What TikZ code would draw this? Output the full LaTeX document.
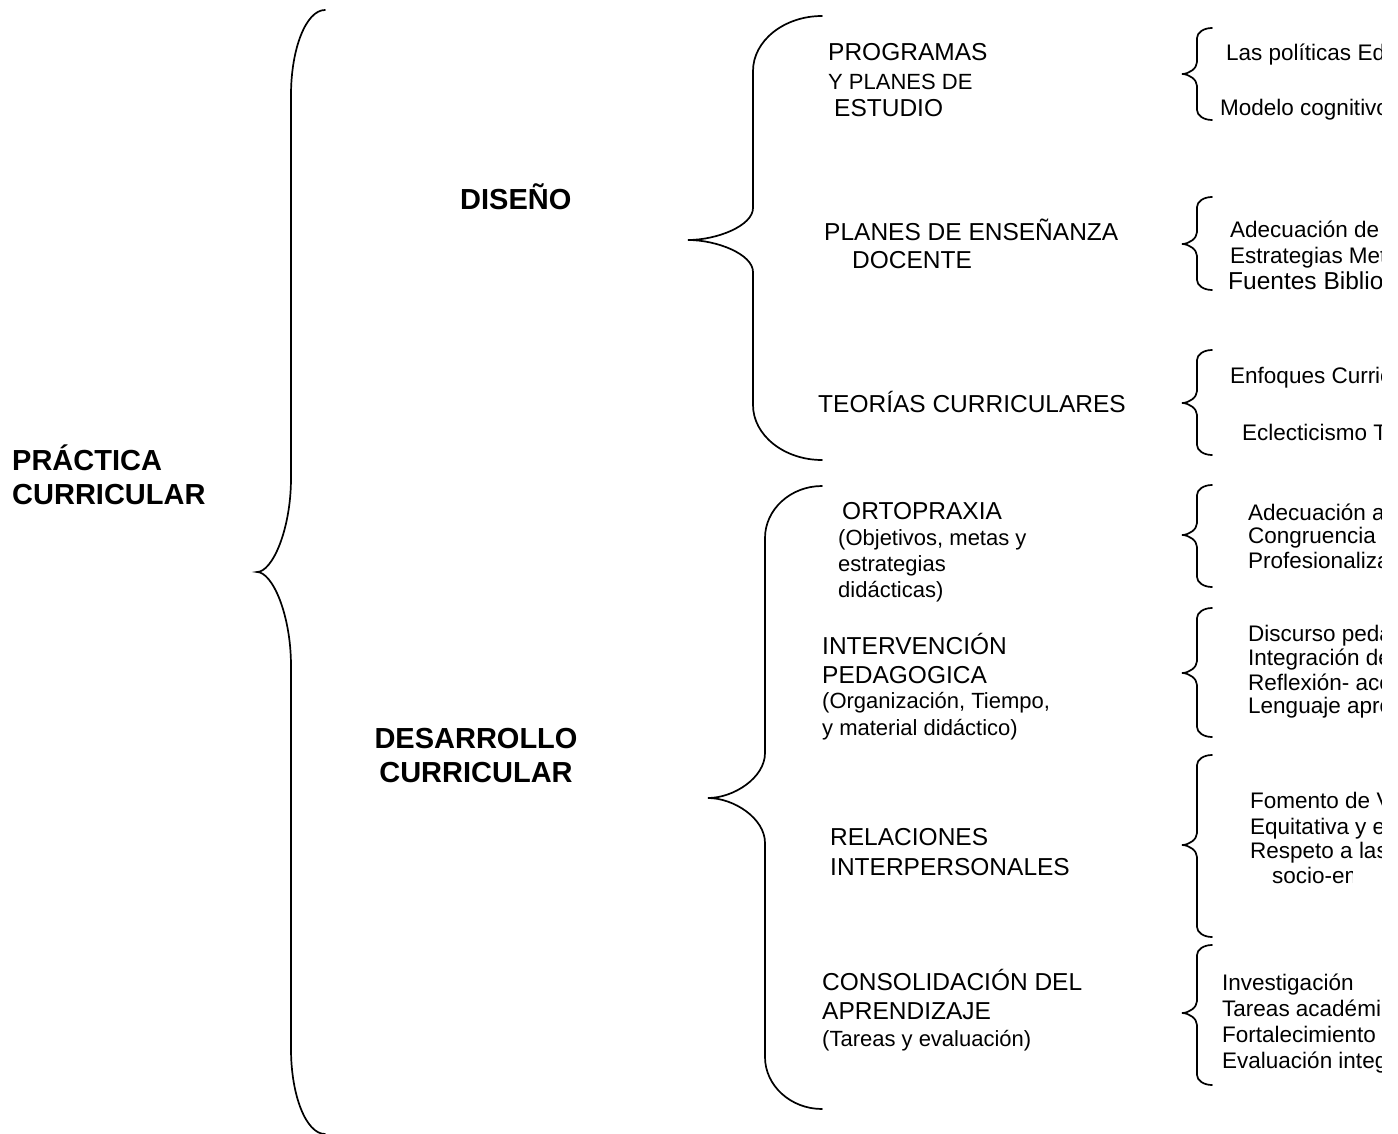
\documentclass[tikz,border=0pt]{standalone}
\usepackage{fontspec}
\setmainfont{Liberation Sans}
\newcommand{\mybrace}[8]{%
  \draw[bracestyle] (#1,#4) .. controls ({#2+0.45*(#1-#2)},#4) and (#2,{#4+0.45*#7}) .. (#2,{#4+#7})
    -- (#2,{#5-#8}) .. controls (#2,{#5-0.45*#8}) and ({#3+0.45*(#2-#3)},#5) .. (#3,#5)
    .. controls ({#3+0.45*(#2-#3)},#5) and (#2,{#5+0.45*#8}) .. (#2,{#5+#8})
    -- (#2,{#6-#7}) .. controls (#2,{#6-0.45*#7}) and ({#2+0.45*(#1-#2)},#6) .. (#1,#6);}
\tikzset{
  capt/.style={font=\fontsize{24.5}{29}\selectfont, anchor=base west, inner sep=0pt},
  subt/.style={font=\fontsize{22}{26}\selectfont, anchor=base west, inner sep=0pt},
  rt/.style={font=\fontsize{22.5}{26}\selectfont, anchor=base west, inner sep=0pt},
  bigt/.style={font=\bfseries\fontsize{29}{33}\selectfont, anchor=base west, inner sep=0pt},
  bracestyle/.style={line width=1.7pt, line cap=round}
}
\begin{document}
\begin{tikzpicture}[x=1pt,y=-1pt]
\useasboundingbox (0,0) rectangle (1398,1134);
\clip (0,0) rectangle (1398,1134);
\fill[white] (0,0) rectangle (1398,1134);
% level 0
\node[bigt] (prac1) at (12,470) {PRÁCTICA};
\node[bigt] (prac2) at (12,504) {CURRICULAR};
% big brace
\mybrace{325}{291}{257}{10}{572}{1134}{85}{94}
% level 1
\node[bigt] (dis) at (460,210) {DISEÑO};
\node[bigt, anchor=base] (des1) at (476,748) {DESARROLLO};
\node[bigt, anchor=base] (des2) at (476,782) {CURRICULAR};
\mybrace{822}{753}{688}{16}{240}{460}{55}{32}
\mybrace{822}{765}{708}{486}{798}{1109}{52}{45}
% level 2
\node[capt] (pr1) at (828,61) {PROGRAMAS};
\node[subt] (pr2) at (828,90) {Y PLANES DE};
\node[capt] (pr3) at (834,117) {ESTUDIO};
\node[capt] (pe1) at (824,241) {PLANES DE ENSEÑANZA};
\node[capt] (pe2) at (852,269) {DOCENTE};
\node[capt] (te) at (818,412) {TEORÍAS CURRICULARES};
\node[capt] (or1) at (842,519) {ORTOPRAXIA};
\node[subt] (or2) at (838,545) {(Objetivos, metas y};
\node[subt] (or3) at (838,571) {estrategias};
\node[subt] (or4) at (838,597) {didácticas)};
\node[capt] (in1) at (822,654) {INTERVENCIÓN};
\node[capt] (in2) at (822,683) {PEDAGOGICA};
\node[subt] (in3) at (822,708) {(Organización, Tiempo,};
\node[subt] (in4) at (822,735) {y material didáctico)};
\node[capt] (re1) at (830,845) {RELACIONES};
\node[capt] (re2) at (830,875) {INTERPERSONALES};
\node[capt] (co1) at (822,990) {CONSOLIDACIÓN DEL};
\node[capt] (co2) at (822,1019) {APRENDIZAJE};
\node[subt] (co3) at (822,1046) {(Tareas y evaluación)};
% level 3 braces
\mybrace{1212}{1197}{1182}{28}{74}{120}{10}{12}
\mybrace{1212}{1197}{1182}{197}{244}{290}{10}{12}
\mybrace{1212}{1197}{1182}{350}{403}{455}{10}{12}
\mybrace{1212}{1197}{1182}{485}{535}{587}{10}{12}
\mybrace{1212}{1197}{1182}{608}{673}{737}{10}{12}
\mybrace{1212}{1197}{1182}{755}{845}{937}{10}{12}
\mybrace{1212}{1197}{1182}{945}{1013}{1085}{10}{12}
% level 3 texts (cut at the right edge of the text area)
\begin{scope}
\clip (1200,0) rectangle (1381,1134);
\node[rt] (a1) at (1226,61) {Las políticas Edu};
\node[rt] (a2) at (1220,116) {Modelo cognitivo};
\node[rt] (b1) at (1230,238) {Adecuación de};
\node[rt] (b2) at (1230,264) {Estrategias Meto};
\node[capt] (b3) at (1228,290) {Fuentes Bibliog};
\node[rt] (c1) at (1230,383) {Enfoques Curric};
\node[rt] (c2) at (1242,440) {Eclecticismo Te};
\node[rt] (d1) at (1248,520) {Adecuación al};
\node[rt] (d2) at (1248,543) {Congruencia};
\node[rt] (d3) at (1248,568) {Profesionalizac};
\node[rt] (e1) at (1248,641) {Discurso peda};
\node[rt] (e2) at (1248,665) {Integración de};
\node[rt] (e3) at (1248,690) {Reflexión- acci};
\node[rt] (e4) at (1248,713) {Lenguaje apro};
\node[rt] (f1) at (1250,808) {Fomento de Va};
\node[rt] (f2) at (1250,834) {Equitativa y eq};
\node[rt] (f3) at (1250,858) {Respeto a las};
\node[rt] (g1) at (1222,990) {Investigación};
\node[rt] (g2) at (1222,1016) {Tareas académi};
\node[rt] (g3) at (1222,1042) {Fortalecimiento};
\node[rt] (g4) at (1222,1068) {Evaluación integ};
\end{scope}
\begin{scope}
\clip (1200,860) rectangle (1352,900);
\node[rt] (f4) at (1272,883) {socio-emo};
\end{scope}
\end{tikzpicture}
\end{document}
